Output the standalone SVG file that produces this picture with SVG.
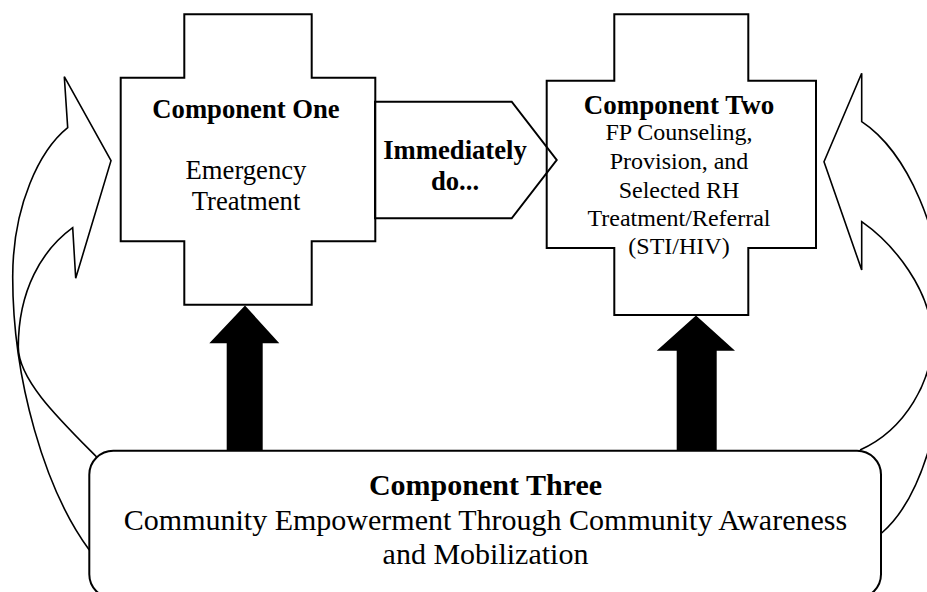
<svg xmlns="http://www.w3.org/2000/svg" width="927" height="592" viewBox="0 0 927 592">
<style>
.ln{fill:none;stroke:#000;stroke-width:2;stroke-linejoin:miter}
.cv{fill:none;stroke:#000;stroke-width:1.6}
.t{font-family:"Liberation Serif","Times New Roman",serif;font-size:26.67px;fill:#000;text-anchor:middle}
.s{font-size:24px}
.l{font-size:30px}
.b{font-weight:bold}
</style>
<rect width="927" height="592" fill="#fff"/>
<g id="connectors">
  <path id="loop-left" class="cv" d="M89.3,550 C45,490 12.7,380 12.7,277 C12.7,205 40,150 67.7,127.7 L64.3,76.7 L111,160.7 L75.7,278.3 L72.7,227.7 C42,250 18.3,290 18.3,347 C18.3,380 60,420 96.7,457"/>
  <path id="loop-right" class="cv" d="M881.7,533 C920,500 945,420 945,330 C945,230 905,150 861.7,121.7 L861.7,73.3 L824,161.7 L861.7,270 L861.7,221.7 C895,245 930,290 932,335 C934,380 905,430 860,450"/>
  <polygon id="up-left" points="226.7,451 262.7,451 262.7,343.3 279.3,343.3 245,305.5 209.3,343.3 226.7,343.3" fill="#000"/>
  <polygon id="up-right" points="676.7,451 716.7,451 716.7,350.7 735,350.7 696,315.5 656.7,350.7 676.7,350.7" fill="#000"/>
  <g id="immediately">
    <polygon class="ln" points="375,101.7 511.7,101.7 556.7,160 511.7,218.3 375,218.3"/>
    <text class="t b" x="455" y="158.5">Immediately</text>
    <text class="t b" x="455" y="189.5">do...</text>
  </g>
</g>
<g id="component-one">
  <polygon class="ln" points="184.3,14.3 311.7,14.3 311.7,77.7 375.3,77.7 375.3,241.3 311.7,241.3 311.7,304.7 184.3,304.7 184.3,241.3 120.7,241.3 120.7,77.7 184.3,77.7"/>
  <text class="t b" x="246" y="118">Component One</text>
  <text class="t" x="246" y="178.5">Emergency</text>
  <text class="t" x="246" y="209.5">Treatment</text>
</g>
<g id="component-two">
  <polygon class="ln" points="614.3,14.3 748.3,14.3 748.3,80.7 816,80.7 816,248 748.3,248 748.3,315 614.3,315 614.3,248 546.7,248 546.7,80.7 614.3,80.7"/>
  <text class="t b" x="679" y="114" style="font-size:27px">Component Two</text>
  <text class="t s" x="679" y="140">FP Counseling,</text>
  <text class="t s" x="679" y="169">Provision, and</text>
  <text class="t s" x="679" y="197.5">Selected RH</text>
  <text class="t s" x="679" y="225.5">Treatment/Referral</text>
  <text class="t s" x="679" y="254">(STI/HIV)</text>
</g>
<g id="component-three">
  <rect x="89.3" y="450.7" width="791.7" height="147.5" rx="24" ry="24" fill="#fff" stroke="#000" stroke-width="2"/>
  <text class="t l b" x="485.5" y="494.5">Component Three</text>
  <text class="t l" x="485.5" y="529.5">Community Empowerment Through Community Awareness</text>
  <text class="t l" x="485.5" y="563.5">and Mobilization</text>
</g>
</svg>
